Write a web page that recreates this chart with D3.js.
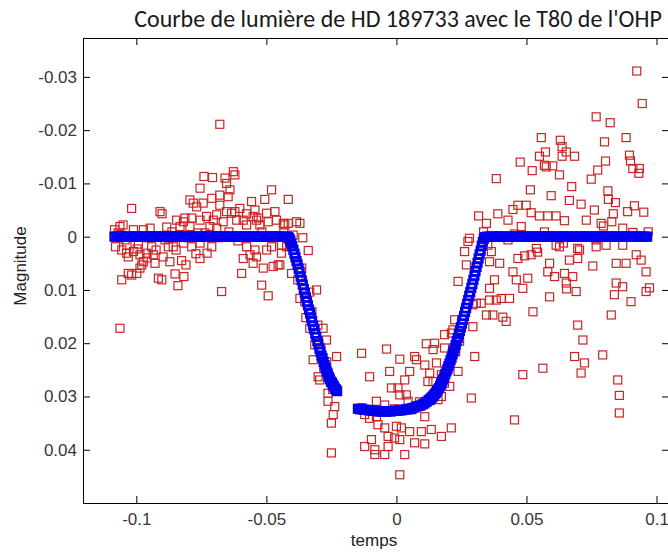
<!DOCTYPE html>
<html>
<head>
<meta charset="utf-8">
<script src="https://cdn.jsdelivr.net/npm/d3@7"></script>
<style>
  body { margin: 0; background: #fff; }
  svg { display: block; }
</style>
</head>
<body>
<svg id="chart" width="668" height="552"></svg>
<script>
// Light curve of HD 189733 (transit), T80 telescope at OHP
const title = "Courbe de lumière de HD 189733 avec le T80 de l'OHP";
const xLabel = "temps";
const yLabel = "Magnitude";
const xTicks = [-0.1, -0.05, 0, 0.05, 0.1];
const yTicks = [-0.03, -0.02, -0.01, 0, 0.01, 0.02, 0.03, 0.04];
const xDomain = [-0.1205, 0.1048];
const yDomain = [-0.0373, 0.05];

// Measured differential magnitudes: [time, magnitude]
const observations = [
  [-0.1084,-0.0013],[-0.1080,0.0019],[-0.1070,-0.0007],[-0.1063,-0.0019],[-0.1063,0.0172],[-0.1056,0.0025],[-0.1056,0.0081],[-0.1051,-0.0022],[-0.1043,0.0006],[-0.1037,0.0031],
  [-0.1031,0.0038],[-0.1031,0.0069],[-0.1018,-0.0053],[-0.1018,0.0072],[-0.1011,-0.0013],[-0.1011,0.0028],[-0.0998,0.0069],[-0.0992,0.0014],[-0.0986,0.0034],[-0.0986,0.0059],
  [-0.0979,0.0053],[-0.0973,-0.0013],[-0.0973,0.0047],[-0.0960,0.0031],[-0.0955,0.0002],[-0.0947,-0.0016],[-0.0941,0.0019],[-0.0935,0.0034],[-0.0928,0.0050],[-0.0917,-0.0001],
  [-0.0915,0.0078],[-0.0909,-0.0047],[-0.0902,0.0081],[-0.0901,-0.0043],[-0.0890,0.0006],[-0.0883,-0.0018],[-0.0877,0.0019],[-0.0871,0.0047],[-0.0863,-0.0009],[-0.0858,0.0019],
  [-0.0851,0.0070],[-0.0845,-0.0031],[-0.0840,0.0092],[-0.0832,-0.0019],[-0.0826,0.0045],[-0.0819,-0.0028],[-0.0819,0.0012],[-0.0817,0.0075],[-0.0813,-0.0035],[-0.0801,0.0002],
  [-0.0794,-0.0069],[-0.0794,-0.0019],[-0.0787,-0.0035],[-0.0787,0.0019],[-0.0781,-0.0063],[-0.0768,-0.0056],[-0.0763,-0.0007],[-0.1074,0.0002],[-0.1036,0.0016],[-0.0997,0.0023],
  [-0.0959,0.0040],[-0.0924,0.0025],[-0.0897,0.0038],[-0.0847,0.0025],[-0.0809,0.0053],[-0.0771,0.0032],
  [-0.0740,-0.0113],[-0.0755,-0.0091],[-0.0755,-0.0031],[-0.0755,0.0012],[-0.0755,0.0041],[-0.0743,-0.0063],[-0.0730,-0.0038],[-0.0728,0.0031],[-0.0717,-0.0019],[-0.0710,-0.0072],
  [-0.0707,-0.0111],[-0.0710,0.0019],[-0.0704,-0.0031],[-0.0691,-0.0041],[-0.0691,-0.0016],[-0.0679,-0.0211],[-0.0679,-0.0078],[-0.0679,-0.0059],[-0.0672,0.0103],[-0.0666,-0.0028],
  [-0.0659,-0.0110],[-0.0653,-0.0100],[-0.0653,-0.0047],[-0.0647,-0.0075],[-0.0640,-0.0088],[-0.0634,-0.0044],[-0.0627,-0.0122],[-0.0621,-0.0116],[-0.0621,-0.0047],[-0.0614,-0.0031],
  [-0.0602,-0.0053],[-0.0595,0.0069],[-0.0589,-0.0031],[-0.0589,0.0041],[-0.0576,-0.0043],[-0.0576,-0.0022],[-0.0576,0.0019],[-0.0563,0.0034],[-0.0557,-0.0066],[-0.0551,-0.0038],
  [-0.0551,0.0050],[-0.0544,-0.0050],[-0.0544,0.0025],[-0.0538,-0.0031],[-0.0538,0.0038],[-0.0531,-0.0035],[-0.0525,-0.0022],[-0.0518,0.0091],[-0.0512,0.0059],[-0.0506,-0.0070],
  [-0.0499,-0.0044],[-0.0499,0.0025],[-0.0493,-0.0028],[-0.0493,0.0111],[-0.0480,-0.0088],[-0.0480,0.0019],[-0.0474,0.0056],[-0.0467,-0.0047],[-0.0461,-0.0031],[-0.0455,0.0053],
  [-0.0442,0.0016],[-0.0442,0.0031],[-0.0435,-0.0025],[-0.0422,0.0019],[-0.0416,-0.0070],[-0.0416,-0.0025],[-0.0403,0.0069],[-0.0397,-0.0003],[-0.0384,-0.0028],[-0.0736,-0.0007],
  [-0.0686,0.0002],[-0.0644,-0.0009],[-0.0609,0.0008],[-0.0563,-0.0001],[-0.0517,-0.0009],[-0.0471,0.0002],[-0.0433,-0.0009],
  [-0.0429,-0.0022],[-0.0371,-0.0025],[-0.0448,0.0053],[-0.0391,0.0034],[-0.0364,0.0059],[-0.0339,0.0026],[-0.0371,0.0116],[-0.0352,0.0122],[-0.0333,0.0104],[-0.0307,0.0100],
  [-0.0325,0.0141],[-0.0333,0.0172],[-0.0302,0.0166],[-0.0282,0.0172],[-0.0269,0.0194],[-0.0291,0.0209],[-0.0320,0.0231],[-0.0268,0.0235],[-0.0230,0.0225],[-0.0301,0.0263],
  [-0.0295,0.0269],[-0.0256,0.0269],[-0.0263,0.0294],[-0.0263,0.0309],[-0.0237,0.0319],[-0.0243,0.0334],[-0.0250,0.0350],[-0.0250,0.0406],[-0.0379,0.0081],[-0.0348,0.0152],
  [-0.0314,0.0203],[-0.0279,0.0246],[-0.0245,0.0287],[-0.0406,0.0017],[-0.0360,0.0002],
  [-0.0134,0.0219],[-0.0122,0.0334],[-0.0122,0.0394],[-0.0103,0.0263],[-0.0103,0.0341],[-0.0096,0.0381],[-0.0083,0.0400],[-0.0083,0.0409],[-0.0077,0.0309],[-0.0077,0.0338],
  [-0.0071,0.0353],[-0.0045,0.0316],[-0.0045,0.0359],[-0.0045,0.0409],[-0.0038,0.0211],[-0.0032,0.0375],[-0.0032,0.0394],[-0.0026,0.0253],[-0.0019,0.0284],[-0.0007,0.0378],
  [0.0000,0.0356],[0.0006,0.0284],[0.0013,0.0230],[0.0013,0.0297],[0.0013,0.0381],[0.0013,0.0447],[0.0019,0.0359],[0.0032,0.0269],[0.0032,0.0409],[0.0038,0.0297],
  [0.0045,0.0309],[0.0051,0.0253],[0.0051,0.0366],[0.0070,0.0225],[0.0070,0.0387],[0.0077,0.0231],[0.0096,0.0366],[0.0109,0.0241],[0.0109,0.0338],[0.0109,0.0389],
  [0.0115,0.0201],[0.0121,0.0272],[0.0128,0.0256],[0.0134,0.0362],[0.0141,0.0212],[0.0141,0.0272],[0.0147,0.0200],[0.0154,0.0237],[0.0160,0.0306],[0.0173,0.0259],
  [0.0173,0.0300],[0.0173,0.0375],[0.0185,0.0184],[0.0185,0.0209],[0.0185,0.0275],[0.0205,0.0281],[0.0211,0.0181],[0.0211,0.0359],[0.0217,0.0175],[0.0224,0.0156],
  [0.0237,0.0084],[0.0237,0.0253],[0.0243,0.0196],[0.0262,0.0028],[0.0269,0.0053],[0.0275,0.0009],[0.0281,0.0003],[0.0288,0.0303],[0.0294,0.0128],[0.0294,0.0169],
  [0.0301,0.0225],[0.0307,0.0125],[-0.0133,0.0321],[-0.0064,0.0329],[-0.0007,0.0323],[0.0059,0.0325],[0.0089,0.0310],[0.0197,0.0246],[0.0228,0.0216],[0.0251,0.0156],
  [0.0316,-0.0039],[0.0326,0.0125],[0.0346,-0.0025],[0.0346,0.0147],[0.0358,0.0047],[0.0358,0.0097],[0.0358,0.0119],[0.0365,0.0028],[0.0371,0.0147],[0.0377,0.0081],
  [0.0384,-0.0109],[0.0384,0.0119],[0.0390,-0.0043],[0.0397,0.0050],[0.0403,0.0116],[0.0409,0.0151],[0.0422,0.0159],[0.0429,-0.0031],[0.0429,0.0006],[0.0435,0.0116],
  [0.0448,-0.0051],[0.0448,0.0066],[0.0454,0.0344],[0.0461,0.0081],[0.0467,-0.0059],[0.0467,0.0041],[0.0476,-0.0140],[0.0480,-0.0019],[0.0486,0.0097],[0.0486,0.0259],
  [0.0493,0.0036],[0.0499,-0.0059],[0.0505,0.0078],[0.0515,-0.0088],[0.0518,-0.0045],[0.0518,0.0034],[0.0522,-0.0124],[0.0525,0.0141],[0.0538,0.0022],[0.0543,0.0029],
  [0.0550,-0.0151],[0.0550,-0.0039],[0.0557,-0.0186],[0.0563,0.0247],[0.0569,-0.0134],[0.0573,-0.0159],[0.0576,-0.0131],[0.0582,-0.0039],[0.0582,0.0066],[0.0589,0.0050],
  [0.0589,0.0113],[0.0595,-0.0077],[0.0601,-0.0133],[0.0608,0.0075],[0.0614,-0.0039],[0.0614,0.0016],[0.0627,-0.0116],[0.0627,0.0019],[0.0630,-0.0181],[0.0637,-0.0169],
  [0.0637,-0.0151],[0.0642,0.0012],[0.0335,-0.0009],[0.0397,-0.0001],[0.0454,-0.0005],[0.0569,-0.0009],[0.0351,0.0016],
  [0.0646,-0.0030],[0.0646,0.0069],[0.0653,-0.0159],[0.0653,0.0087],[0.0654,0.0098],[0.0665,-0.0068],[0.0665,0.0044],[0.0674,-0.0094],[0.0678,0.0075],[0.0685,-0.0151],
  [0.0685,0.0225],[0.0691,0.0103],[0.0697,0.0022],[0.0697,0.0041],[0.0697,0.0166],[0.0704,0.0025],[0.0710,-0.0061],[0.0710,0.0256],[0.0717,0.0194],[0.0723,0.0237],
  [0.0730,-0.0031],[0.0749,-0.0108],[0.0755,0.0055],[0.0761,-0.0050],[0.0768,-0.0225],[0.0768,0.0006],[0.0768,0.0019],[0.0774,-0.0125],[0.0787,-0.0025],[0.0796,-0.0020],
  [0.0793,0.0222],[0.0800,-0.0178],[0.0804,-0.0142],[0.0806,0.0016],[0.0813,-0.0086],[0.0815,-0.0070],[0.0822,-0.0214],[0.0826,0.0147],[0.0828,-0.0028],[0.0834,-0.0043],
  [0.0838,0.0109],[0.0842,-0.0064],[0.0845,0.0050],[0.0845,0.0087],[0.0851,0.0269],[0.0857,0.0298],[0.0857,0.0331],[0.0870,-0.0016],[0.0870,0.0016],[0.0870,0.0094],
  [0.0883,-0.0186],[0.0883,0.0050],[0.0889,-0.0047],[0.0896,-0.0153],[0.0900,-0.0142],[0.0902,0.0122],[0.0909,-0.0128],[0.0909,-0.0008],[0.0915,-0.0058],[0.0922,0.0034],
  [0.0924,-0.0311],[0.0932,-0.0119],[0.0934,-0.0128],[0.0941,0.0044],[0.0945,-0.0250],[0.0951,-0.0046],[0.0960,0.0066],[0.0960,0.0103],[0.0973,0.0096],[0.0968,-0.0009]
];

// Fitted transit model at the observation cadence: [time, magnitude]
const model = [
  [-0.1084,0],[-0.1076,0],[-0.1068,0],[-0.1060,0],[-0.1052,0],[-0.1044,0],[-0.1036,0],[-0.1028,0],[-0.1020,0],[-0.1012,0],
  [-0.1004,0],[-0.0996,0],[-0.0988,0],[-0.0980,0],[-0.0972,0],[-0.0964,0],[-0.0956,0],[-0.0948,0],[-0.0940,0],[-0.0932,0],
  [-0.0924,0],[-0.0916,0],[-0.0908,0],[-0.0900,0],[-0.0892,0],[-0.0884,0],[-0.0876,0],[-0.0868,0],[-0.0860,0],[-0.0852,0],
  [-0.0844,0],[-0.0836,0],[-0.0828,0],[-0.0820,0],[-0.0812,0],[-0.0804,0],[-0.0796,0],[-0.0788,0],[-0.0780,0],[-0.0772,0],
  [-0.0764,0],[-0.0756,0],[-0.0748,0],[-0.0740,0],[-0.0732,0],[-0.0724,0],[-0.0716,0],[-0.0708,0],[-0.0700,0],[-0.0692,0],
  [-0.0684,0],[-0.0676,0],[-0.0668,0],[-0.0660,0],[-0.0652,0],[-0.0644,0],[-0.0636,0],[-0.0628,0],[-0.0620,0],[-0.0612,0],
  [-0.0604,0],[-0.0596,0],[-0.0588,0],[-0.0580,0],[-0.0572,0],[-0.0564,0],[-0.0556,0],[-0.0548,0],[-0.0540,0],[-0.0532,0],
  [-0.0524,0],[-0.0516,0],[-0.0508,0],[-0.0500,0],[-0.0492,0],[-0.0484,0],[-0.0476,0],[-0.0468,0],[-0.0460,0],[-0.0452,0],
  [-0.0444,0],[-0.0436,0],[-0.0428,0],[-0.0420,0],
  [-0.0416,0.0001],[-0.0412,0.0003],[-0.0408,0.0007],[-0.0404,0.0013],[-0.0400,0.0018],[-0.0396,0.0025],[-0.0392,0.0032],[-0.0388,0.0039],
  [-0.0384,0.0046],[-0.0380,0.0052],[-0.0376,0.0060],[-0.0372,0.0066],[-0.0368,0.0075],[-0.0364,0.0082],[-0.0360,0.0090],[-0.0356,0.0098],
  [-0.0352,0.0106],[-0.0348,0.0114],[-0.0344,0.0122],[-0.0340,0.0129],[-0.0336,0.0137],[-0.0332,0.0144],[-0.0328,0.0152],[-0.0324,0.0159],
  [-0.0320,0.0167],[-0.0316,0.0174],[-0.0312,0.0182],[-0.0308,0.0188],[-0.0304,0.0196],[-0.0300,0.0202],[-0.0296,0.0210],[-0.0292,0.0216],
  [-0.0288,0.0223],[-0.0284,0.0228],[-0.0280,0.0235],[-0.0276,0.0241],[-0.0272,0.0247],[-0.0268,0.0253],[-0.0264,0.0257],[-0.0260,0.0263],
  [-0.0256,0.0267],[-0.0252,0.0272],[-0.0248,0.0274],[-0.0244,0.0278],[-0.0240,0.0281],[-0.0236,0.0285],[-0.0232,0.0287],[-0.0228,0.0290],
  [-0.0148,0.0323],[-0.0140,0.0324],[-0.0132,0.0324],[-0.0124,0.0325],[-0.0116,0.0325],[-0.0108,0.0326],[-0.0100,0.0326],[-0.0092,0.0327],
  [-0.0084,0.0327],[-0.0076,0.0327],[-0.0068,0.0328],[-0.0060,0.0328],[-0.0052,0.0328],[-0.0044,0.0328],[-0.0036,0.0328],[-0.0028,0.0328],
  [-0.0020,0.0328],[-0.0012,0.0327],[-0.0004,0.0327],[0.0004,0.0327],[0.0012,0.0326],[0.0020,0.0326],[0.0028,0.0325],[0.0036,0.0324],
  [0.0044,0.0324],[0.0052,0.0323],[0.0060,0.0322],[0.0068,0.0321],[0.0076,0.0319],[0.0084,0.0318],[0.0092,0.0317],[0.0100,0.0315],
  [0.0108,0.0313],[0.0116,0.0310],
  [0.0124,0.0307],[0.0128,0.0306],[0.0132,0.0304],[0.0136,0.0302],[0.0140,0.0300],[0.0144,0.0298],[0.0148,0.0295],[0.0152,0.0293],
  [0.0156,0.0290],[0.0160,0.0287],[0.0164,0.0284],[0.0168,0.0280],[0.0172,0.0276],[0.0176,0.0272],[0.0180,0.0268],[0.0184,0.0263],
  [0.0188,0.0258],[0.0192,0.0253],[0.0196,0.0249],[0.0200,0.0243],[0.0204,0.0238],[0.0208,0.0232],[0.0212,0.0227],[0.0216,0.0221],
  [0.0220,0.0215],[0.0224,0.0209],[0.0228,0.0203],[0.0232,0.0196],[0.0236,0.0190],[0.0240,0.0183],[0.0244,0.0177],[0.0248,0.0170],
  [0.0252,0.0163],[0.0256,0.0156],[0.0260,0.0149],[0.0264,0.0141],[0.0268,0.0134],[0.0272,0.0126],[0.0276,0.0119],[0.0280,0.0111],
  [0.0284,0.0104],[0.0288,0.0096],[0.0292,0.0089],[0.0296,0.0081],[0.0300,0.0073],[0.0304,0.0065],[0.0308,0.0057],[0.0312,0.0049],
  [0.0316,0.0041],[0.0320,0.0033],[0.0324,0.0026],[0.0328,0.0017],[0.0332,0.0010],[0.0336,0.0004],[0.0340,0.0001],
  [0.0348,0],[0.0356,0],[0.0364,0],[0.0372,0],[0.0380,0],[0.0388,0],[0.0396,0],[0.0404,0],[0.0412,0],[0.0420,0],
  [0.0428,0],[0.0436,0],[0.0444,0],[0.0452,0],[0.0460,0],[0.0468,0],[0.0476,0],[0.0484,0],[0.0492,0],[0.0500,0],
  [0.0508,0],[0.0516,0],[0.0524,0],[0.0532,0],[0.0540,0],[0.0548,0],[0.0556,0],[0.0564,0],[0.0572,0],[0.0580,0],
  [0.0588,0],[0.0596,0],[0.0604,0],[0.0612,0],[0.0620,0],[0.0628,0],[0.0636,0],[0.0644,0],[0.0652,0],[0.0660,0],
  [0.0668,0],[0.0676,0],[0.0684,0],[0.0692,0],[0.0700,0],[0.0708,0],[0.0716,0],[0.0724,0],[0.0732,0],[0.0740,0],
  [0.0748,0],[0.0756,0],[0.0764,0],[0.0772,0],[0.0780,0],[0.0788,0],[0.0796,0],[0.0804,0],[0.0812,0],[0.0820,0],
  [0.0828,0],[0.0836,0],[0.0844,0],[0.0852,0],[0.0860,0],[0.0868,0],[0.0876,0],[0.0884,0],[0.0892,0],[0.0900,0],
  [0.0908,0],[0.0916,0],[0.0924,0],[0.0932,0],[0.0940,0],[0.0948,0],[0.0956,0],[0.0964,0]
];

const plot = { left: 83, right: 669, top: 38, bottom: 503 };
const axisFont = "'Liberation Sans', Arial, sans-serif";

const x = d3.scaleLinear().domain(xDomain).range([plot.left, plot.right]);
const y = d3.scaleLinear().domain(yDomain).range([plot.top, plot.bottom]);

const svg = d3.select("#chart");

svg.append("rect")
  .attr("width", 668).attr("height", 552).attr("fill", "#fff");

// Observed points: open red squares
const obsSize = 8;
svg.append("g").selectAll("rect").data(observations).join("rect")
  .attr("x", d => x(d[0]) - obsSize / 2)
  .attr("y", d => y(d[1]) - obsSize / 2)
  .attr("width", obsSize).attr("height", obsSize)
  .attr("fill", "none")
  .attr("stroke", "#c92424")
  .attr("stroke-width", 1.2);

// Model: dense open blue squares
const modSize = 7.8;
svg.append("g").selectAll("rect").data(model).join("rect")
  .attr("x", d => x(d[0]) - modSize / 2)
  .attr("y", d => y(d[1]) - modSize / 2)
  .attr("width", modSize).attr("height", modSize)
  .attr("fill", "none")
  .attr("stroke", "#0000ee")
  .attr("stroke-width", 2.4);

// Axes box with inward ticks on all four sides
function styleAxis(g) {
  g.select(".domain").remove();
  g.selectAll(".tick line").attr("stroke", "#000");
  g.selectAll(".tick text")
    .attr("font-family", axisFont)
    .attr("font-size", 17)
    .attr("fill", "#383838");
}

svg.append("g")
  .attr("transform", `translate(0,${plot.bottom})`)
  .call(d3.axisBottom(x).tickValues(xTicks).tickSize(-7).tickPadding(10).tickFormat(d => String(d)))
  .call(styleAxis);

svg.append("g")
  .attr("transform", `translate(0,${plot.top})`)
  .call(d3.axisTop(x).tickValues(xTicks).tickSize(-7).tickFormat(""))
  .call(styleAxis);

svg.append("g")
  .attr("transform", `translate(${plot.left},0)`)
  .call(d3.axisLeft(y).tickValues(yTicks).tickSize(-7).tickPadding(6).tickFormat(d => String(d)))
  .call(styleAxis);

svg.append("g")
  .attr("transform", `translate(${plot.right},0)`)
  .call(d3.axisRight(y).tickValues(yTicks).tickSize(-7).tickFormat(""))
  .call(styleAxis);

svg.append("rect")
  .attr("x", plot.left + 0.5).attr("y", plot.top + 0.5)
  .attr("width", plot.right - plot.left).attr("height", plot.bottom - plot.top)
  .attr("fill", "none").attr("stroke", "#000").attr("stroke-width", 1);

// Axis titles
svg.append("text")
  .attr("x", (plot.left + plot.right) / 2 - 2).attr("y", 546)
  .attr("text-anchor", "middle")
  .attr("font-family", axisFont).attr("font-size", 17).attr("fill", "#222")
  .text(xLabel);

svg.append("text")
  .attr("transform", "translate(26,266) rotate(-90)")
  .attr("text-anchor", "middle")
  .attr("font-family", axisFont).attr("font-size", 17).attr("fill", "#222")
  .text(yLabel);

// Chart title, sized to span its slot
const titleWidth = 528;
const tt = svg.append("text")
  .attr("x", 398).attr("y", 27)
  .attr("text-anchor", "middle")
  .attr("font-family", "Carlito, Lato, 'Open Sans', sans-serif")
  .attr("font-size", 20).attr("fill", "#1a1a1a")
  .text(title);
const tw = tt.node().getComputedTextLength();
if (tw > 0) tt.attr("font-size", 20 * titleWidth / tw);
</script>
</body>
</html>
